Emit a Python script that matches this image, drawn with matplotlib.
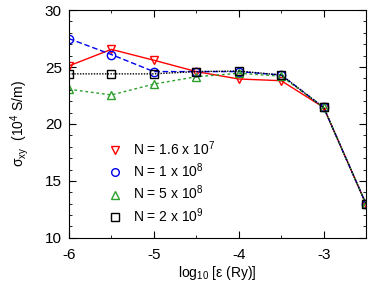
import numpy as np
import matplotlib
matplotlib.use('Agg')
import matplotlib.pyplot as plt
from matplotlib.lines import Line2D
from matplotlib.ticker import MultipleLocator

plt.rcParams['font.family'] = ['Liberation Sans', 'DejaVu Sans']
plt.rcParams['mathtext.fontset'] = 'custom'
plt.rcParams['mathtext.rm'] = 'Liberation Sans'
plt.rcParams['mathtext.it'] = 'Liberation Sans:italic'
plt.rcParams['axes.unicode_minus'] = False

x = [-6, -5.5, -5, -4.5, -4, -3.5, -3, -2.5]
red = [25.1, 26.55, 25.6, 24.6, 23.95, 23.8, 21.45, 12.95]
blue = [27.5, 26.1, 24.6, 24.6, 24.6, 24.3, 21.45, 12.95]
green = [23.05, 22.55, 23.5, 24.15, 24.45, 24.2, 21.45, 12.95]
black = [24.4, 24.4, 24.4, 24.6, 24.65, 24.3, 21.45, 12.95]
labels = [r'N = 1.6 x 10$^7$', r'N = 1 x 10$^8$', r'N = 5 x 10$^8$', r'N = 2 x 10$^9$']

fig = plt.figure(figsize=(3.74, 2.88), dpi=100)
ax = fig.add_axes([0.184, 0.174, 0.795, 0.791])

styles = [
    (red, '#ff0000', 'v', '-'),
    (blue, '#0000ee', 'o', (0, (4, 2))),
    (green, '#2ca02c', '^', (0, (2, 2))),
    (black, 'black', 's', (0, (1, 1))),
]
handles = []
for (y, c, m, ls), lab in zip(styles, labels):
    ax.plot(x, y, color=c, ls=ls, lw=1, marker=m, ms=6, mfc='none', mec=c, mew=1)
    handles.append(Line2D([], [], ls='none', color=c, marker=m, ms=5.5, mfc='none', mec=c, mew=1, label=lab))

ax.legend(handles=handles, loc='upper left', bbox_to_anchor=(0.085, 0.465), frameon=False,
          fontsize=10, handletextpad=0.3, labelspacing=0.28, borderpad=0)

ax.set_xlim(-6, -2.5)
ax.set_ylim(10, 30)
ax.set_xticks([-6, -5, -4, -3])
ax.set_yticks([10, 15, 20, 25, 30])
ax.xaxis.set_minor_locator(MultipleLocator(0.5))
ax.yaxis.set_minor_locator(MultipleLocator(1))
ax.tick_params(which='both', direction='in', top=True, right=True, labelsize=11)
ax.tick_params(axis='x', which='major', pad=7)
ax.tick_params(axis='y', which='major', pad=5)
ax.tick_params(which='major', length=5)
ax.tick_params(which='minor', length=2.5)

ax.set_xlabel(r'log$_{10}$ [ε (Ry)]', fontsize=10, labelpad=2)
ax.set_ylabel(r'σ$_{\mathrm{xy}}$  (10$^4$ S/m)', fontsize=10, labelpad=10)

fig.savefig('out.png', dpi=100)
